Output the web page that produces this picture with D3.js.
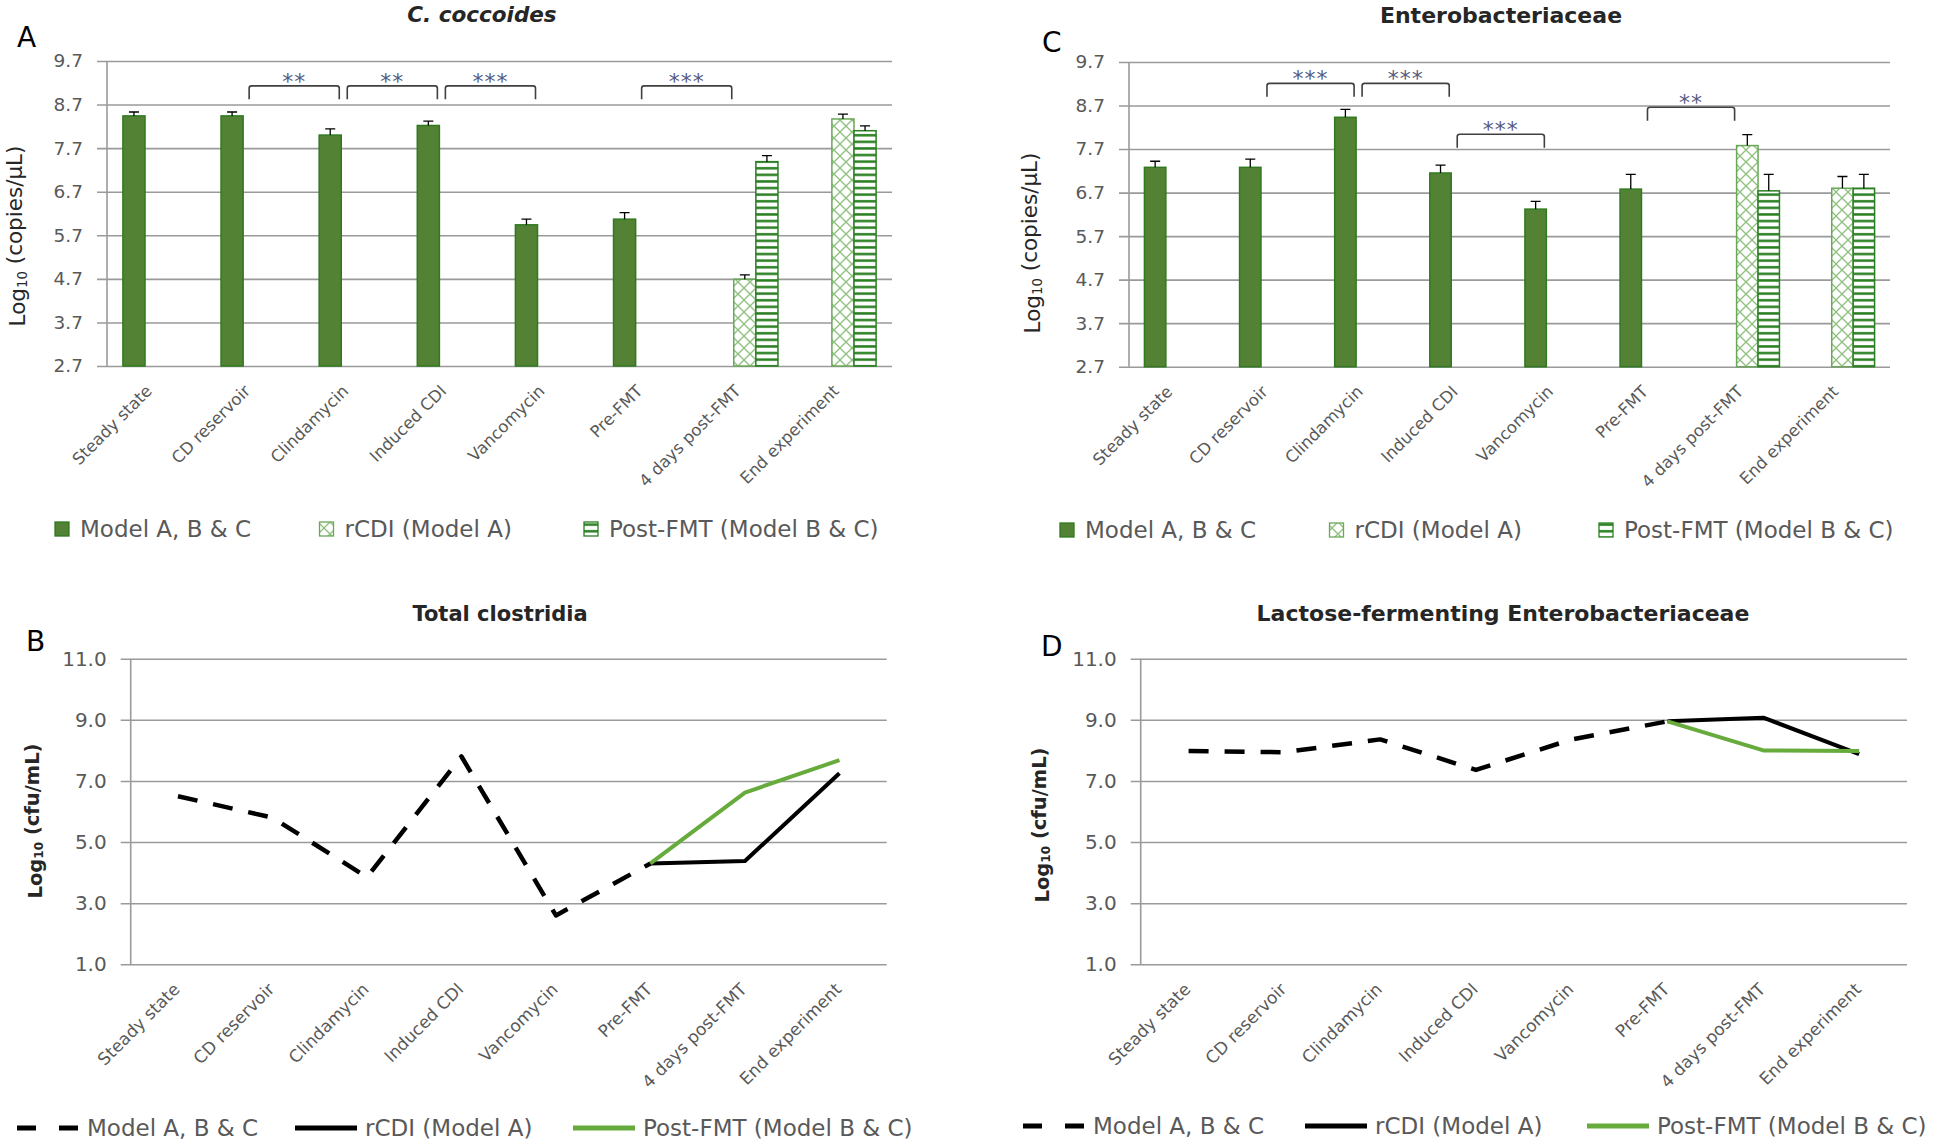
<!DOCTYPE html>
<html><head><meta charset="utf-8">
<script src="https://cdn.jsdelivr.net/npm/d3@7"></script>
<style>
body{margin:0;background:#fff;}
svg{display:block;font-family:"DejaVu Sans", "Noto Sans", sans-serif;}
</style></head><body>
<svg id="chart" width="1946" height="1141"></svg>
<script>
// ---------------- DATA ----------------
const categories = ["Steady state", "CD reservoir", "Clindamycin", "Induced CDI", "Vancomycin", "Pre-FMT", "4 days post-FMT", "End experiment"];
const seriesNames = ["Model A, B & C", "rCDI (Model A)", "Post-FMT (Model B & C)"];
const barTicks = [2.7, 3.7, 4.7, 5.7, 6.7, 7.7, 8.7, 9.7];
const lineTicks = [1, 3, 5, 7, 9, 11];

// A: C. coccoides (log10 copies/µL)
const ccoccModel    = [8.44, 8.44, 8.00, 8.22, 5.94, 6.07, null, null];
const ccoccModelErr = [0.09, 0.09, 0.14, 0.10, 0.13, 0.15, null, null];
const ccoccRcdi     = [null, null, null, null, null, null, 4.69, 8.37];
const ccoccRcdiErr  = [null, null, null, null, null, null, 0.10, 0.11];
const ccoccPost     = [null, null, null, null, null, null, 7.39, 8.10];
const ccoccPostErr  = [null, null, null, null, null, null, 0.14, 0.11];
const ccoccSig = [
  {from: "CD reservoir", to: "Clindamycin", label: "**", level: 9.13},
  {from: "Clindamycin", to: "Induced CDI", label: "**", level: 9.13},
  {from: "Induced CDI", to: "Vancomycin", label: "***", level: 9.13},
  {from: "Pre-FMT", to: "4 days post-FMT", label: "***", level: 9.13}
];

// C: Enterobacteriaceae (log10 copies/µL)
const enteroModel    = [7.28, 7.28, 8.43, 7.15, 6.32, 6.78, null, null];
const enteroModelErr = [0.14, 0.19, 0.18, 0.18, 0.18, 0.34, null, null];
const enteroRcdi     = [null, null, null, null, null, null, 7.78, 6.80];
const enteroRcdiErr  = [null, null, null, null, null, null, 0.25, 0.27];
const enteroPost     = [null, null, null, null, null, null, 6.74, 6.80];
const enteroPostErr  = [null, null, null, null, null, null, 0.38, 0.32];
const enteroSig = [
  {from: "CD reservoir", to: "Clindamycin", label: "***", level: 9.21},
  {from: "Clindamycin", to: "Induced CDI", label: "***", level: 9.21},
  {from: "Induced CDI", to: "Vancomycin", label: "***", level: 8.04},
  {from: "Pre-FMT", to: "4 days post-FMT", label: "**", level: 8.66}
];

// B: Total clostridia (log10 cfu/mL)
const clostModel = [6.50, 5.80, 3.85, 7.80, 2.60, 4.30, null, null];
const clostRcdi  = [null, null, null, null, null, 4.30, 4.38, 7.25];
const clostPost  = [null, null, null, null, null, 4.30, 6.62, 7.68];

// D: Lactose-fermenting Enterobacteriaceae (log10 cfu/mL)
const lactModel = [7.98, 7.94, 8.36, 7.36, 8.36, 8.95, null, null];
const lactRcdi  = [null, null, null, null, null, 8.95, 9.07, 7.88];
const lactPost  = [null, null, null, null, null, 8.95, 8.00, 7.98];

// ---------------- DRAWING ----------------
const svg = d3.select("#chart");
svg.append("rect").attr("width", 1946).attr("height", 1141).attr("fill", "#fff");
const defs = svg.append("defs");

const hatch = defs.append("pattern").attr("id", "crossHatch")
  .attr("patternUnits", "userSpaceOnUse").attr("width", 12).attr("height", 12);
hatch.append("rect").attr("width", 12).attr("height", 12).attr("fill", "#fff");
hatch.append("path").attr("d", "M0,0L12,12M12,0L0,12")
  .attr("stroke", "#8cc07c").attr("stroke-width", 1.3);

const stripe = defs.append("pattern").attr("id", "hStripe")
  .attr("patternUnits", "userSpaceOnUse").attr("width", 8).attr("height", 6.6);
stripe.append("rect").attr("width", 8).attr("height", 6.6).attr("fill", "#fff");
stripe.append("rect").attr("y", 2).attr("width", 8).attr("height", 2.5).attr("fill", "#2a7f22");

const barStyles = [
  {fill: "#548235", stroke: "#2f7a1f"},
  {fill: "url(#crossHatch)", stroke: "#6aa758"},
  {fill: "url(#hStripe)", stroke: "#2a7f22"}
];
const lineStyles = [
  {stroke: "#000", width: 4.5, dash: "20,16"},
  {stroke: "#000", width: 4, dash: null},
  {stroke: "#66ab3c", width: 4, dash: null}
];
const GRID = "#9a9a9a";

function styleAxis(ag, fs) {
  ag.attr("font-family", null).attr("font-size", null);
  ag.select(".domain").remove();
  ag.selectAll(".tick line").attr("x1", -10).attr("stroke", GRID).attr("stroke-width", 1.6);
  ag.selectAll(".tick text").attr("fill", "#595959").style("font-size", fs + "px");
}

function yLabel(g, x, y, unit, bold, fs) {
  const t = g.append("text").attr("transform", `translate(${x},${y}) rotate(-90)`)
    .attr("text-anchor", "middle").attr("dominant-baseline", "central")
    .style("font-size", fs + "px").style("font-weight", bold ? 700 : 400).attr("fill", "#262626");
  t.append("tspan").text("Log");
  t.append("tspan").text("10").style("font-size", (fs * 0.62) + "px").attr("dy", "0.35em");
  t.append("tspan").text(" " + unit).attr("dy", "-0.35em");
}

function xLabels(g, xpos, axisY, fs, dx) {
  g.selectAll(null).data(categories).join("text")
    .attr("transform", d => `translate(${xpos(d) + dx},${axisY + 26}) rotate(-45)`)
    .attr("text-anchor", "end").attr("fill", "#595959").style("font-size", fs + "px")
    .text(d => d);
}

function header(p) {
  svg.append("text").attr("x", p.titleX).attr("y", p.titleY).attr("text-anchor", "middle")
    .style("font-weight", 700).style("font-style", p.italic ? "italic" : "normal")
    .style("font-size", p.titleSize + "px").attr("fill", "#262626").text(p.title);
  svg.append("text").attr("x", p.letterX).attr("y", p.letterY)
    .style("font-size", "28px").attr("fill", "#000").text(p.letter);
}

function barPanel(p) {
  header(p);
  const g = svg.append("g");
  const x = d3.scaleBand().domain(categories).range([p.left, p.right]);
  const xs = d3.scaleBand().domain(seriesNames).range([0, x.bandwidth()]).paddingOuter(0.72);
  const y = d3.scaleLinear().domain([2.7, 9.7]).range([p.bottom, p.top]);

  const ag = g.append("g").attr("transform", `translate(${p.left},0)`)
    .call(d3.axisLeft(y).tickValues(barTicks).tickSize(-(p.right - p.left)).tickPadding(24).tickFormat(d3.format(".1f")));
  styleAxis(ag, 18.5);
  g.append("line").attr("x1", p.left).attr("x2", p.left).attr("y1", p.top).attr("y2", p.bottom)
    .attr("stroke", GRID).attr("stroke-width", 1.6);

  yLabel(g, p.ylabX, p.ylabY, "(copies/µL)", false, 21.5);
  xLabels(g, c => x(c) + x.bandwidth() / 2, p.bottom, 16.5, -3);

  p.series.forEach((vals, s) => {
    const recs = categories.map((c, i) => ({c, v: vals[i], e: p.errs[s][i]})).filter(d => d.v != null);
    const sg = g.append("g");
    sg.selectAll("rect").data(recs).join("rect")
      .attr("x", d => x(d.c) + xs(seriesNames[s]))
      .attr("width", xs.bandwidth())
      .attr("y", d => y(d.v))
      .attr("height", d => y(2.7) - y(d.v))
      .attr("fill", barStyles[s].fill).attr("stroke", barStyles[s].stroke).attr("stroke-width", 1.5);
    const cx = d => x(d.c) + xs(seriesNames[s]) + xs.bandwidth() / 2;
    sg.selectAll("path.err").data(recs).join("path").attr("class", "err")
      .attr("d", d => `M${cx(d)},${y(d.v)}V${y(d.v + d.e)}M${cx(d) - 5},${y(d.v + d.e)}H${cx(d) + 5}`)
      .attr("stroke", "#000").attr("stroke-width", 1.3).attr("fill", "none");
  });

  const barRight = c => x(c) + xs(seriesNames[0]) + xs.bandwidth();
  p.sig.forEach(b => {
    const x1 = barRight(b.from) + 6, x2 = barRight(b.to) - 2, yt = y(b.level);
    g.append("path")
      .attr("d", `M${x1},${yt + 13.5}V${yt + 2.5}Q${x1},${yt} ${x1 + 2.5},${yt}H${x2 - 2.5}Q${x2},${yt} ${x2},${yt + 2.5}V${yt + 13.5}`)
      .attr("fill", "none").attr("stroke", "#404040").attr("stroke-width", 1.6);
    g.append("text").attr("x", (x1 + x2) / 2).attr("y", yt + 3)
      .attr("text-anchor", "middle").style("font-size", "22px").style("letter-spacing", "1px")
      .attr("fill", "#545a80").text(b.label);
  });

  // legend
  seriesNames.forEach((n, i) => {
    const lx = p.legX + i * p.legStep;
    g.append("rect").attr("x", lx).attr("y", p.legY - 7).attr("width", 14).attr("height", 14)
      .attr("fill", barStyles[i].fill).attr("stroke", barStyles[i].stroke).attr("stroke-width", 1.3);
    g.append("text").attr("x", lx + 25).attr("y", p.legY).attr("dominant-baseline", "central")
      .style("font-size", "23px").attr("fill", "#595959").text(n);
  });
}

function linePanel(p) {
  header(p);
  const g = svg.append("g");
  const x = d3.scalePoint().domain(categories).range([p.left, p.right]).padding(0.5);
  const y = d3.scaleLinear().domain([1, 11]).range([p.bottom, p.top]);

  const ag = g.append("g").attr("transform", `translate(${p.left},0)`)
    .call(d3.axisLeft(y).tickValues(lineTicks).tickSize(-(p.right - p.left)).tickPadding(24).tickFormat(d3.format(".1f")));
  styleAxis(ag, 20);
  g.append("line").attr("x1", p.left).attr("x2", p.left).attr("y1", p.top).attr("y2", p.bottom)
    .attr("stroke", GRID).attr("stroke-width", 1.6);

  yLabel(g, p.ylabX, p.ylabY, "(cfu/mL)", true, 19.5);
  xLabels(g, c => x(c), p.bottom, 17, 3);

  const line = d3.line().defined(d => d.v != null).x(d => x(d.c)).y(d => y(d.v));
  p.series.forEach((vals, s) => {
    const recs = categories.map((c, i) => ({c, v: vals[i]}));
    g.append("path").datum(recs).attr("d", line).attr("fill", "none")
      .attr("stroke", lineStyles[s].stroke).attr("stroke-width", lineStyles[s].width)
      .attr("stroke-dasharray", lineStyles[s].dash).attr("stroke-linejoin", "round");
  });

  seriesNames.forEach((n, i) => {
    const lx = p.legX + i * p.legStep;
    g.append("line").attr("x1", lx).attr("x2", lx + 62).attr("y1", p.legY).attr("y2", p.legY)
      .attr("stroke", lineStyles[i].stroke).attr("stroke-width", 5)
      .attr("stroke-dasharray", i === 0 ? "19,23" : null);
    g.append("text").attr("x", lx + 70).attr("y", p.legY).attr("dominant-baseline", "central")
      .style("font-size", "23px").attr("fill", "#595959").text(n);
  });
}

barPanel({
  title: "C. coccoides", italic: true, titleX: 482, titleY: 22, titleSize: 21.5,
  letter: "A", letterX: 17, letterY: 47,
  left: 107, right: 892, top: 61, bottom: 366,
  ylabX: 17, ylabY: 236,
  series: [ccoccModel, ccoccRcdi, ccoccPost],
  errs: [ccoccModelErr, ccoccRcdiErr, ccoccPostErr],
  sig: ccoccSig,
  legX: 55, legStep: 264.5, legY: 529
});

barPanel({
  title: "Enterobacteriaceae", italic: false, titleX: 1501, titleY: 23, titleSize: 22,
  letter: "C", letterX: 1042, letterY: 52,
  left: 1129, right: 1890, top: 62, bottom: 366.7,
  ylabX: 1032, ylabY: 243,
  series: [enteroModel, enteroRcdi, enteroPost],
  errs: [enteroModelErr, enteroRcdiErr, enteroPostErr],
  sig: enteroSig,
  legX: 1060, legStep: 269.5, legY: 530
});

linePanel({
  title: "Total clostridia", italic: false, titleX: 500, titleY: 621, titleSize: 21,
  letter: "B", letterX: 26, letterY: 651,
  left: 130.7, right: 886.7, top: 658.7, bottom: 964.3,
  ylabX: 35, ylabY: 821,
  series: [clostModel, clostRcdi, clostPost],
  legX: 17, legStep: 278, legY: 1128
});

linePanel({
  title: "Lactose-fermenting Enterobacteriaceae", italic: false, titleX: 1503, titleY: 621, titleSize: 22,
  letter: "D", letterX: 1041, letterY: 656,
  left: 1140.7, right: 1907, top: 658.7, bottom: 964.3,
  ylabX: 1042, ylabY: 825,
  series: [lactModel, lactRcdi, lactPost],
  legX: 1023, legStep: 282, legY: 1126
});
</script>
</body></html>
